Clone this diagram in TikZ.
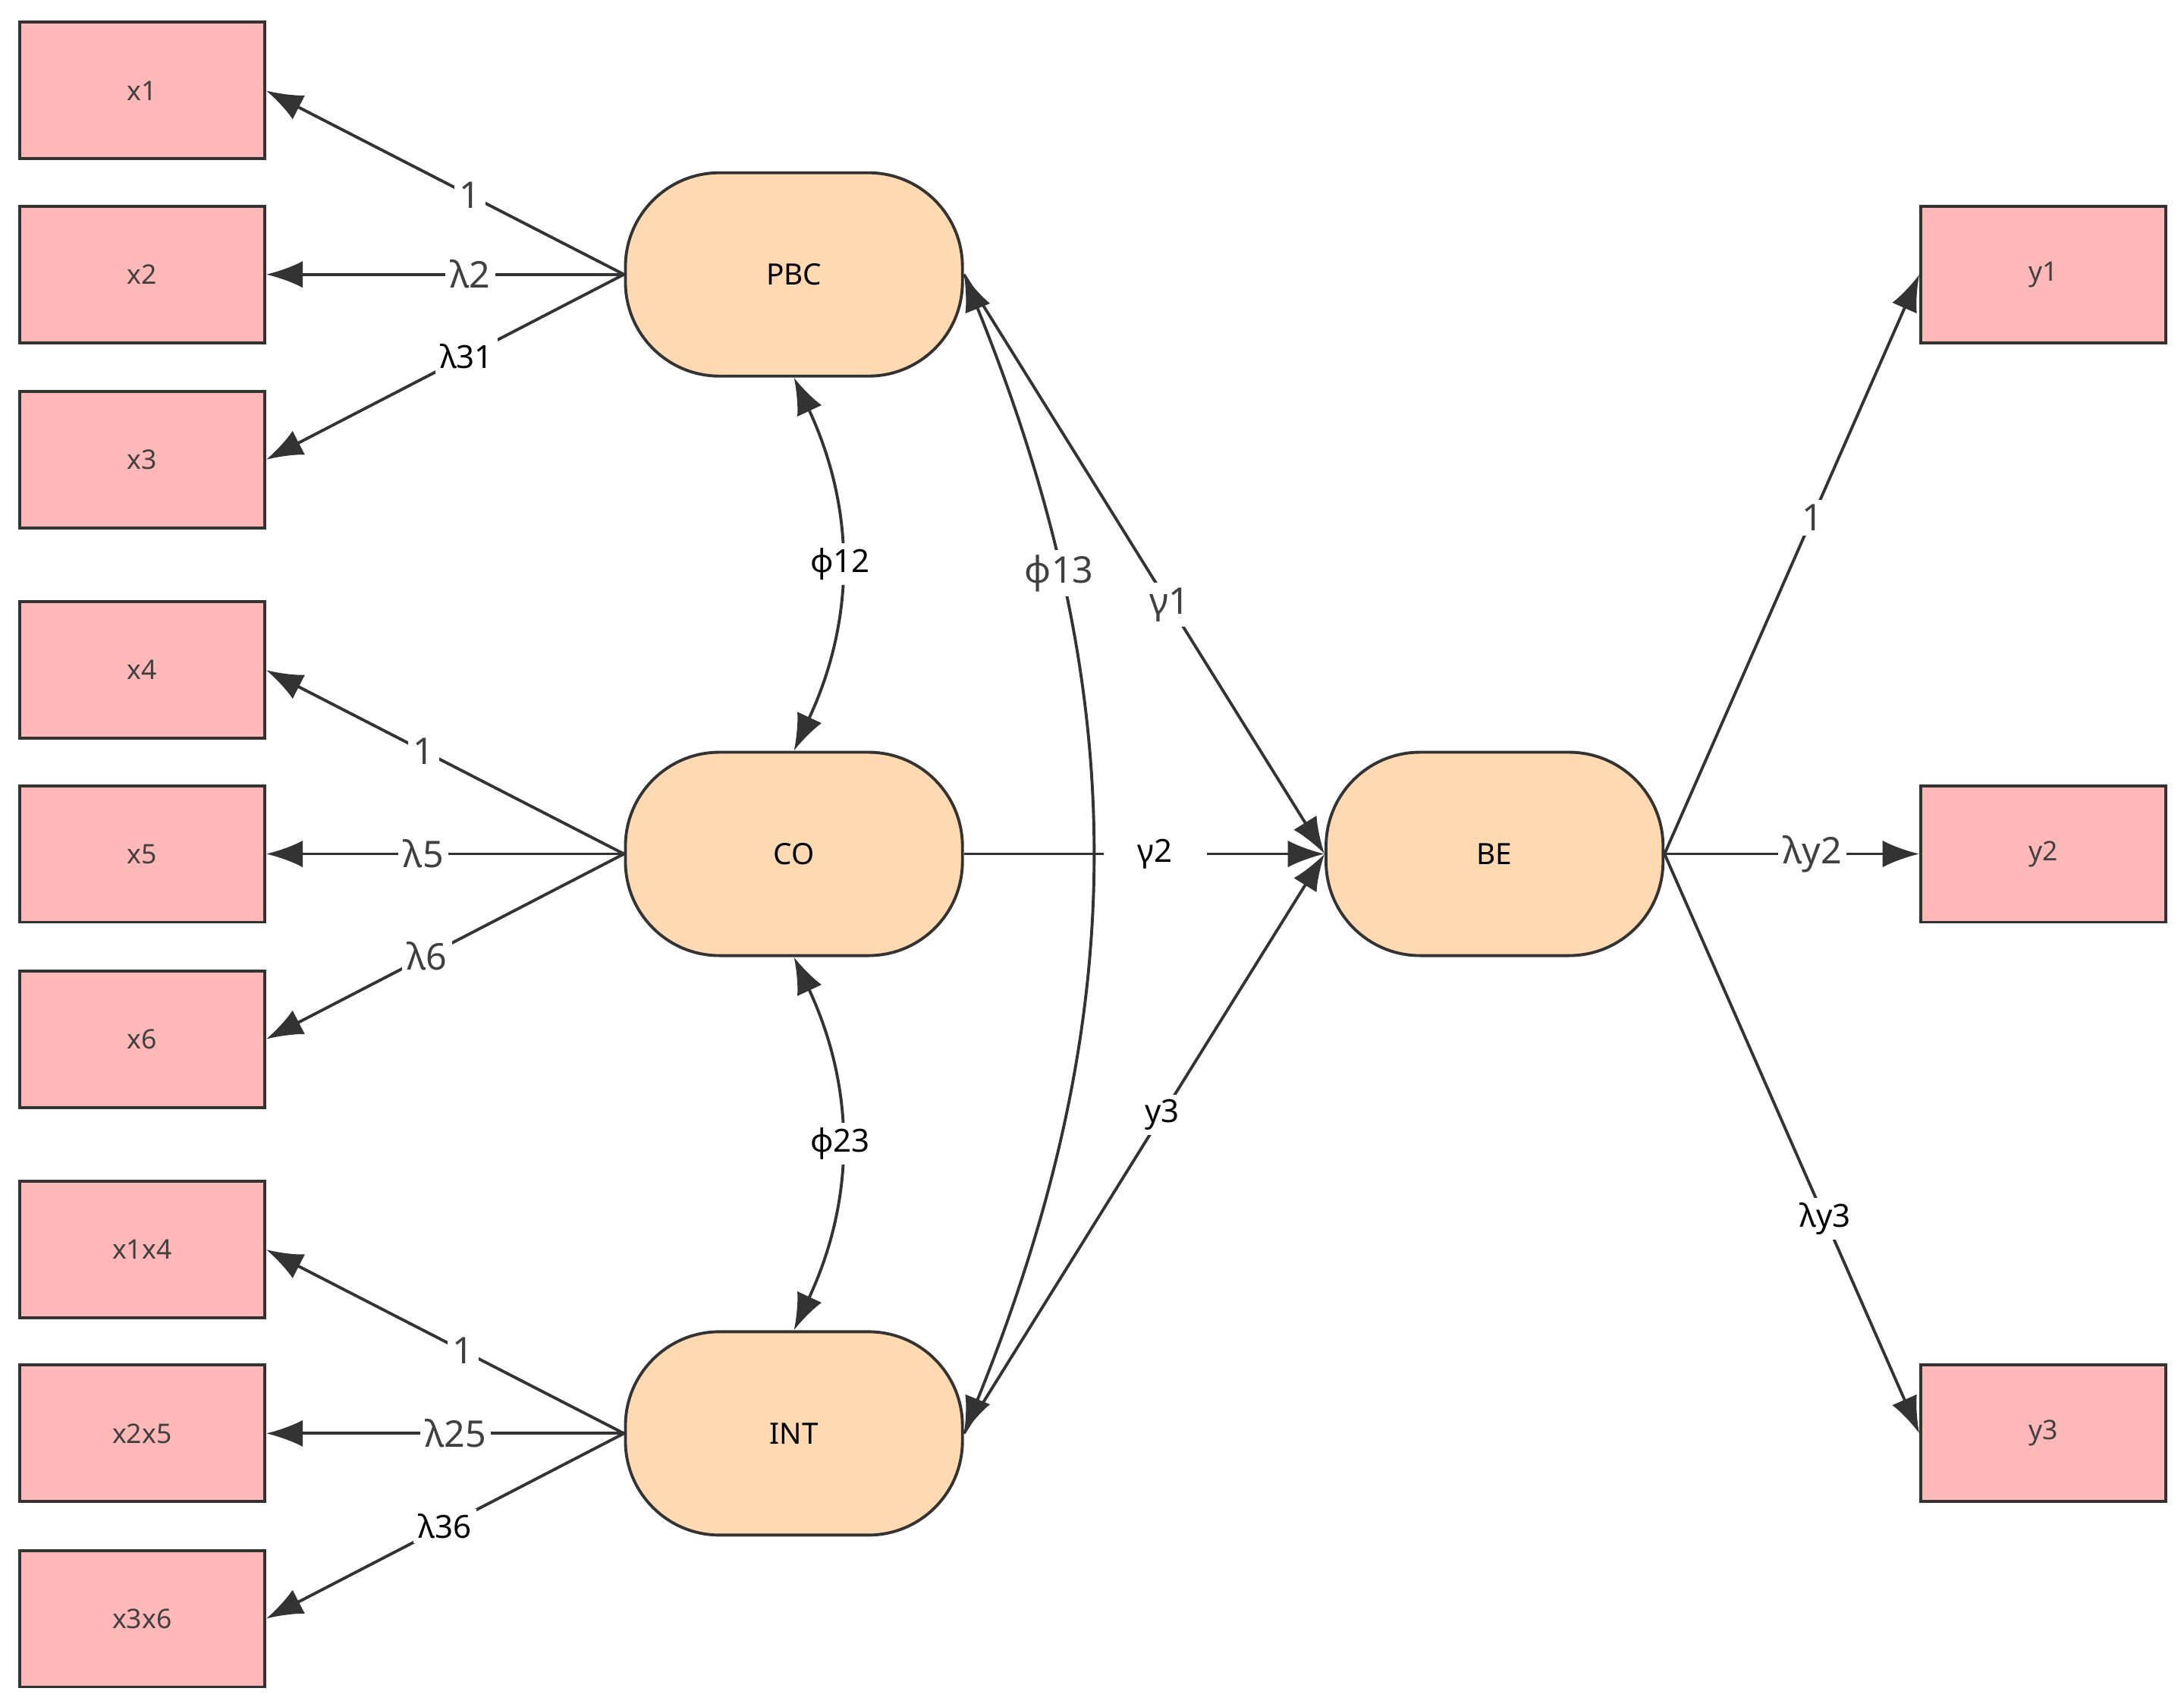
\documentclass[tikz,border=0pt]{standalone}
\usepackage{fontspec}
\setmainfont{Noto Sans}
\usetikzlibrary{arrows.meta}
\begin{document}
\begin{tikzpicture}[x=0.02cm,y=-0.02cm,
 obs/.style={draw=black!80,line width=1.2pt,fill=red!28!white,minimum width=3.52cm,minimum height=1.96cm,font=\fontsize{11}{13}\selectfont,text=black!75},
 lat/.style={draw=black!80,line width=1.2pt,fill=orange!30!white,rounded corners=1.35cm,minimum width=4.84cm,minimum height=2.92cm,font=\fontsize{12}{14}\selectfont},
 arr/.style={draw=black!80,line width=1.2pt,-{Latex[length=15pt,width=11pt]}},
 bi/.style={draw=black!80,line width=1.2pt,{Latex[length=15pt,width=11pt]}-{Latex[length=15pt,width=11pt]}},
 lab/.style={fill=white,inner sep=2pt,font=\fontsize{15}{17}\selectfont,text=black!75},
 labk/.style={fill=white,inner sep=2pt,font=\fontsize{13}{15}\selectfont}]
\useasboundingbox (0,0) rectangle (1568,1225);
\node[obs] (x1) at (102,65) {x1};
\node[obs] (x2) at (102,197) {x2};
\node[obs] (x3) at (102,330) {x3};
\node[obs] (x4) at (102,481) {x4};
\node[obs] (x5) at (102,613) {x5};
\node[obs] (x6) at (102,746) {x6};
\node[obs] (x14) at (102,897) {x1x4};
\node[obs] (x25) at (102,1029) {x2x5};
\node[obs] (x36) at (102,1162) {x3x6};
\node[obs] (y1) at (1467,197) {y1};
\node[obs] (y2) at (1467,613) {y2};
\node[obs] (y3) at (1467,1029) {y3};
\node[lat] (p) at (570,197) {PBC};
\node[lat] (c) at (570,613) {CO};
\node[lat] (i) at (570,1029) {INT};
\node[lat] (b) at (1073,613) {BE};
\draw[arr] (p.west) -- node[lab,pos=0.43]{1} (x1.east);
\draw[arr] (p.west) -- node[lab,pos=0.43]{λ2} (x2.east);
\draw[arr] (p.west) -- node[labk,pos=0.44]{λ31} (x3.east);
\draw[arr] (c.west) -- node[lab,pos=0.56]{1} (x4.east);
\draw[arr] (c.west) -- node[lab,pos=0.56]{λ5} (x5.east);
\draw[arr] (c.west) -- node[lab,pos=0.55]{λ6} (x6.east);
\draw[arr] (i.west) -- node[lab,pos=0.45]{1} (x14.east);
\draw[arr] (i.west) -- node[lab,pos=0.47]{λ25} (x25.east);
\draw[arr] (i.west) -- node[labk,pos=0.5]{λ36} (x36.east);
\draw[bi] (p.south) to[bend left=25] node[labk]{ϕ12} (c.north);
\draw[bi] (c.south) to[bend left=25] node[labk]{ϕ23} (i.north);
\draw[bi] (p.east) to[bend left=22] node[lab,pos=0.25]{ϕ13} (i.east);
\draw[arr] (p.east) -- node[lab,pos=0.57]{γ1} (b.west);
\draw[arr] (c.east) -- node[labk,pos=0.53,inner xsep=14pt]{γ2} (b.west);
\draw[arr] (i.east) -- node[labk,pos=0.55]{y3} (b.west);
\draw[arr] (b.east) -- node[lab,pos=0.58]{1} (y1.west);
\draw[arr] (b.east) -- node[lab,pos=0.58]{λy2} (y2.west);
\draw[arr] (b.east) -- node[labk,pos=0.63]{λy3} (y3.west);
\end{tikzpicture}
\end{document}
